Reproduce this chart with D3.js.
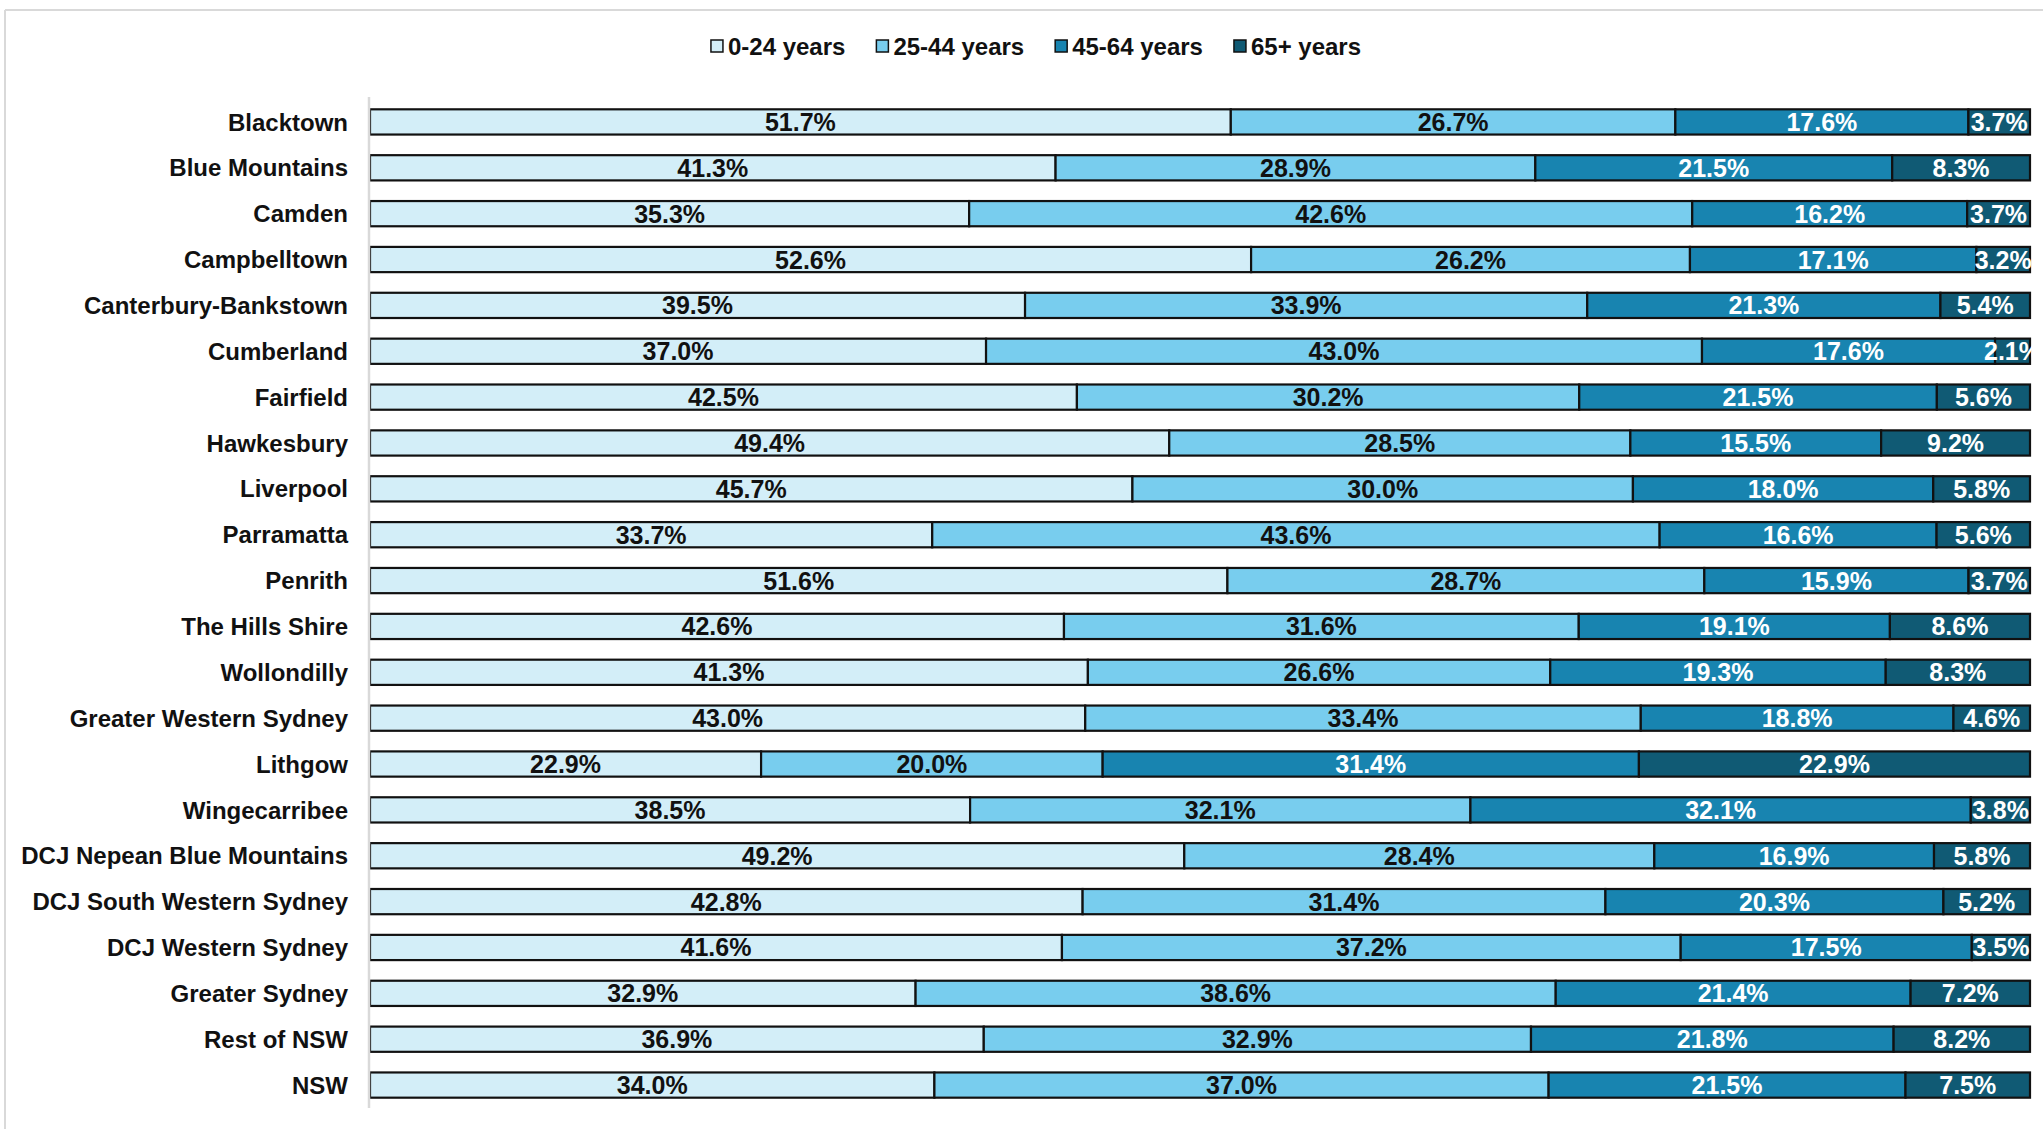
<!DOCTYPE html>
<html>
<head>
<meta charset="utf-8">
<script src="https://cdn.jsdelivr.net/npm/d3@7"></script>
<style>
  html, body { margin: 0; padding: 0; background: #ffffff; }
  svg { display: block; }
  text { font-family: "Liberation Sans", Arial, sans-serif; font-weight: bold; }
</style>
</head>
<body>
<svg id="chart" width="2043" height="1129"></svg>
<script>
// Age profile by region: share of population in each age group
const categories = [
  "Blacktown", "Blue Mountains", "Camden", "Campbelltown", "Canterbury-Bankstown",
  "Cumberland", "Fairfield", "Hawkesbury", "Liverpool", "Parramatta", "Penrith",
  "The Hills Shire", "Wollondilly", "Greater Western Sydney", "Lithgow",
  "Wingecarribee", "DCJ Nepean Blue Mountains", "DCJ South Western Sydney",
  "DCJ Western Sydney", "Greater Sydney", "Rest of NSW", "NSW"
];
const ageGroups = ["0-24 years", "25-44 years", "45-64 years", "65+ years"];

const age0to24  = [51.7, 41.3, 35.3, 52.6, 39.5, 37.0, 42.5, 49.4, 45.7, 33.7, 51.6, 42.6, 41.3, 43.0, 22.9, 38.5, 49.2, 42.8, 41.6, 32.9, 36.9, 34.0];
const age25to44 = [26.7, 28.9, 42.6, 26.2, 33.9, 43.0, 30.2, 28.5, 30.0, 43.6, 28.7, 31.6, 26.6, 33.4, 20.0, 32.1, 28.4, 31.4, 37.2, 38.6, 32.9, 37.0];
const age45to64 = [17.6, 21.5, 16.2, 17.1, 21.3, 17.6, 21.5, 15.5, 18.0, 16.6, 15.9, 19.1, 19.3, 18.8, 31.4, 32.1, 16.9, 20.3, 17.5, 21.4, 21.8, 21.5];
const age65plus = [3.7, 8.3, 3.7, 3.2, 5.4, 2.1, 5.6, 9.2, 5.8, 5.6, 3.7, 8.6, 8.3, 4.6, 22.9, 3.8, 5.8, 5.2, 3.5, 7.2, 8.2, 7.5];

const seriesValues = [age0to24, age25to44, age45to64, age65plus];
const fillColors  = ["#d3eef8", "#78cdee", "#1884b0", "#105a74"];
const labelColors = ["#111111", "#111111", "#ffffff", "#ffffff"];

const rows = categories.map((c, i) => {
  const r = { category: c };
  ageGroups.forEach((g, k) => { r[g] = seriesValues[k][i]; });
  return r;
});

const svg = d3.select("#chart");
const plot = { left: 370, right: 2030, top: 99, bottom: 1108 };

// outer frame
svg.append("line").attr("x1", 5).attr("x2", 5).attr("y1", 10).attr("y2", 1129)
  .attr("stroke", "#d9d9d9").attr("stroke-width", 2);
svg.append("line").attr("x1", 5).attr("x2", 2043).attr("y1", 10).attr("y2", 10)
  .attr("stroke", "#d9d9d9").attr("stroke-width", 2);

const x = d3.scaleLinear().domain([0, 1]).range([plot.left, plot.right]);
const y = d3.scaleBand().domain(categories).range([plot.top, plot.bottom])
  .paddingInner(0.45).paddingOuter(0.225);

const stacked = d3.stack().keys(ageGroups).offset(d3.stackOffsetExpand)(rows);

// bar segments
const layers = svg.append("g").selectAll("g").data(stacked).join("g")
  .attr("fill", (d, k) => fillColors[k]);

layers.selectAll("rect").data(d => d).join("rect")
  .attr("x", d => x(d[0]))
  .attr("y", d => y(d.data.category))
  .attr("width", d => x(d[1]) - x(d[0]))
  .attr("height", y.bandwidth())
  .attr("stroke", "#111111")
  .attr("stroke-width", 2.2);

// category axis
const yAxis = svg.append("g").attr("transform", `translate(${plot.left - 9},0)`)
  .call(d3.axisLeft(y).tickSize(0).tickPadding(13));
yAxis.select(".domain").remove();
yAxis.selectAll("text")
  .attr("font-size", 24)
  .attr("dy", "0.36em")
  .attr("fill", "#111111")
  .attr("font-family", "Liberation Sans, Arial, sans-serif")
  .attr("font-weight", "bold");
svg.append("line")
  .attr("x1", plot.left - 1).attr("x2", plot.left - 1)
  .attr("y1", plot.top - 2).attr("y2", plot.bottom)
  .attr("stroke", "#d9d9d9").attr("stroke-width", 2.5);

// value labels, clipped to the plot's right edge
svg.append("clipPath").attr("id", "plotClip")
  .append("rect").attr("x", 0).attr("y", 0).attr("width", plot.right + 2).attr("height", 1129);

const labelLayers = svg.append("g").attr("clip-path", "url(#plotClip)")
  .selectAll("g").data(stacked).join("g")
  .attr("fill", (d, k) => labelColors[k]);

labelLayers.selectAll("text").data((d, k) => d.map((p, i) => ({ p, v: seriesValues[k][i] })))
  .join("text")
  .attr("x", d => (x(d.p[0]) + x(d.p[1])) / 2)
  .attr("y", d => y(d.p.data.category) + y.bandwidth() / 2 + 9)
  .attr("text-anchor", "middle")
  .attr("font-size", 25)
  .text(d => d.v.toFixed(1) + "%");

// legend
const legend = svg.append("g");
const legendY = 46;
let cursor = 0;
ageGroups.forEach((g, k) => {
  const item = legend.append("g");
  item.append("rect").attr("x", 0).attr("y", legendY - 6).attr("width", 12).attr("height", 12)
    .attr("fill", fillColors[k]).attr("stroke", "#111111").attr("stroke-width", 1.5);
  const t = item.append("text").attr("x", 17).attr("y", legendY + 8.5)
    .attr("font-size", 24).attr("fill", "#111111").text(g);
  const w = 17 + t.node().getComputedTextLength();
  item.attr("transform", `translate(${cursor},0)`);
  cursor += w + 31;
});
const legendWidth = cursor - 31;
legend.attr("transform", `translate(${1036 - legendWidth / 2},0)`);
</script>
</body>
</html>
